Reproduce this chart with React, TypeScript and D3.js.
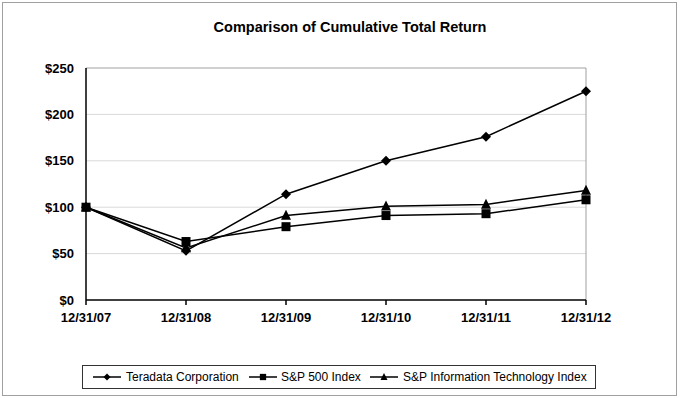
import React from 'react';
import * as d3 from 'd3';

const dates = ['12/31/07', '12/31/08', '12/31/09', '12/31/10', '12/31/11', '12/31/12'];
const teradata = [100, 53, 114, 150, 176, 225];
const sp500 = [100, 63, 79, 91, 93, 108];
const spIT = [100, 56, 91, 101, 103, 118];
const yTicks = [0, 50, 100, 150, 200, 250];

const width = 680;
const height = 398;
const margin = { top: 68, right: 94, bottom: 98, left: 86 };
const font = '"Liberation Sans", Arial, sans-serif';

type Shape = 'diamond' | 'square' | 'triangle';

const markerPath = (shape: Shape, r: number) => {
  if (shape === 'diamond') return `M0,${-r}L${r},0L0,${r}L${-r},0Z`;
  if (shape === 'square') return `M${-r},${-r}H${r}V${r}H${-r}Z`;
  return `M0,${-r * 1.15}L${r},${r * 0.85}L${-r},${r * 0.85}Z`;
};

const series: { name: string; values: number[]; shape: Shape; r: number }[] = [
  { name: 'Teradata Corporation', values: teradata, shape: 'diamond', r: 5 },
  { name: 'S&P 500 Index', values: sp500, shape: 'square', r: 4.5 },
  { name: 'S&P Information Technology Index', values: spIT, shape: 'triangle', r: 5 },
];

const App: React.FC = () => {
  const innerW = width - margin.left - margin.right;
  const innerH = height - margin.top - margin.bottom;

  const x = d3.scalePoint<string>().domain(dates).range([0, innerW]);
  const y = d3.scaleLinear().domain([0, 250]).range([innerH, 0]);

  const line = d3
    .line<number>()
    .x((_, i) => x(dates[i]) as number)
    .y((d) => y(d));

  // legend layout (line start x, text start x)
  const legendItems = [
    { lx: 93, tx: 126 },
    { lx: 249, tx: 281 },
    { lx: 370, tx: 403 },
  ];

  return (
    <svg
      width={width}
      height={height}
      style={{ position: 'absolute', left: 0, top: 0, background: '#fff' }}
    >
      {/* outer frame */}
      <rect x={2.5} y={2.5} width={674} height={393} fill="#fff" stroke="#a0a0a0" strokeWidth={1} />

      <text
        x={350}
        y={32}
        textAnchor="middle"
        fontFamily={font}
        fontWeight="bold"
        fontSize={14.5}
        fill="#000"
      >
        Comparison of Cumulative Total Return
      </text>

      <g transform={`translate(${margin.left},${margin.top})`}>
        {/* grid */}
        {yTicks.slice(1, -1).map((t) => (
          <line key={t} x1={0} x2={innerW} y1={y(t)} y2={y(t)} stroke="#d9d9d9" strokeWidth={1} />
        ))}
        {/* plot frame top/right */}
        <path
          d={`M0,${y(250)}H${innerW}V${innerH}`}
          fill="none"
          stroke="#a0a0a0"
          strokeWidth={1}
        />

        {/* axes */}
        <line x1={0} x2={0} y1={0} y2={innerH} stroke="#000" strokeWidth={1.5} />
        <line x1={0} x2={innerW} y1={innerH} y2={innerH} stroke="#000" strokeWidth={1.5} />
        {dates.map((d) => (
          <line
            key={d}
            x1={x(d)}
            x2={x(d)}
            y1={innerH}
            y2={innerH + 5}
            stroke="#000"
            strokeWidth={1.5}
          />
        ))}

        {yTicks.map((t) => (
          <text
            key={t}
            x={-12}
            y={y(t)}
            dy="0.35em"
            textAnchor="end"
            fontFamily={font}
            fontWeight="bold"
            fontSize={13}
          >
            ${t}
          </text>
        ))}
        {dates.map((d) => (
          <text
            key={d}
            x={x(d)}
            y={innerH + 22}
            textAnchor="middle"
            fontFamily={font}
            fontWeight="bold"
            fontSize={13}
          >
            {d}
          </text>
        ))}

        {series.map((s) => (
          <g key={s.name}>
            <path d={line(s.values) || ''} fill="none" stroke="#000" strokeWidth={1.5} />
            {s.values.map((v, i) => (
              <path
                key={i}
                d={markerPath(s.shape, s.r)}
                transform={`translate(${x(dates[i])},${y(v)})`}
                fill="#000"
              />
            ))}
          </g>
        ))}
      </g>

      {/* legend */}
      <rect x={82.5} y={365.5} width={513} height={23} fill="#fff" stroke="#333" strokeWidth={1} />
      {series.map((s, i) => {
        const { lx, tx } = legendItems[i];
        return (
          <g key={s.name}>
            <line x1={lx} x2={lx + 28} y1={377} y2={377} stroke="#000" strokeWidth={1.5} />
            <path
              d={markerPath(s.shape, s.r * 0.7)}
              transform={`translate(${lx + 14},377)`}
              fill="#000"
            />
            <text x={tx} y={381} fontFamily={font} fontSize={12} fill="#000">
              {s.name}
            </text>
          </g>
        );
      })}
    </svg>
  );
};

export default App;
